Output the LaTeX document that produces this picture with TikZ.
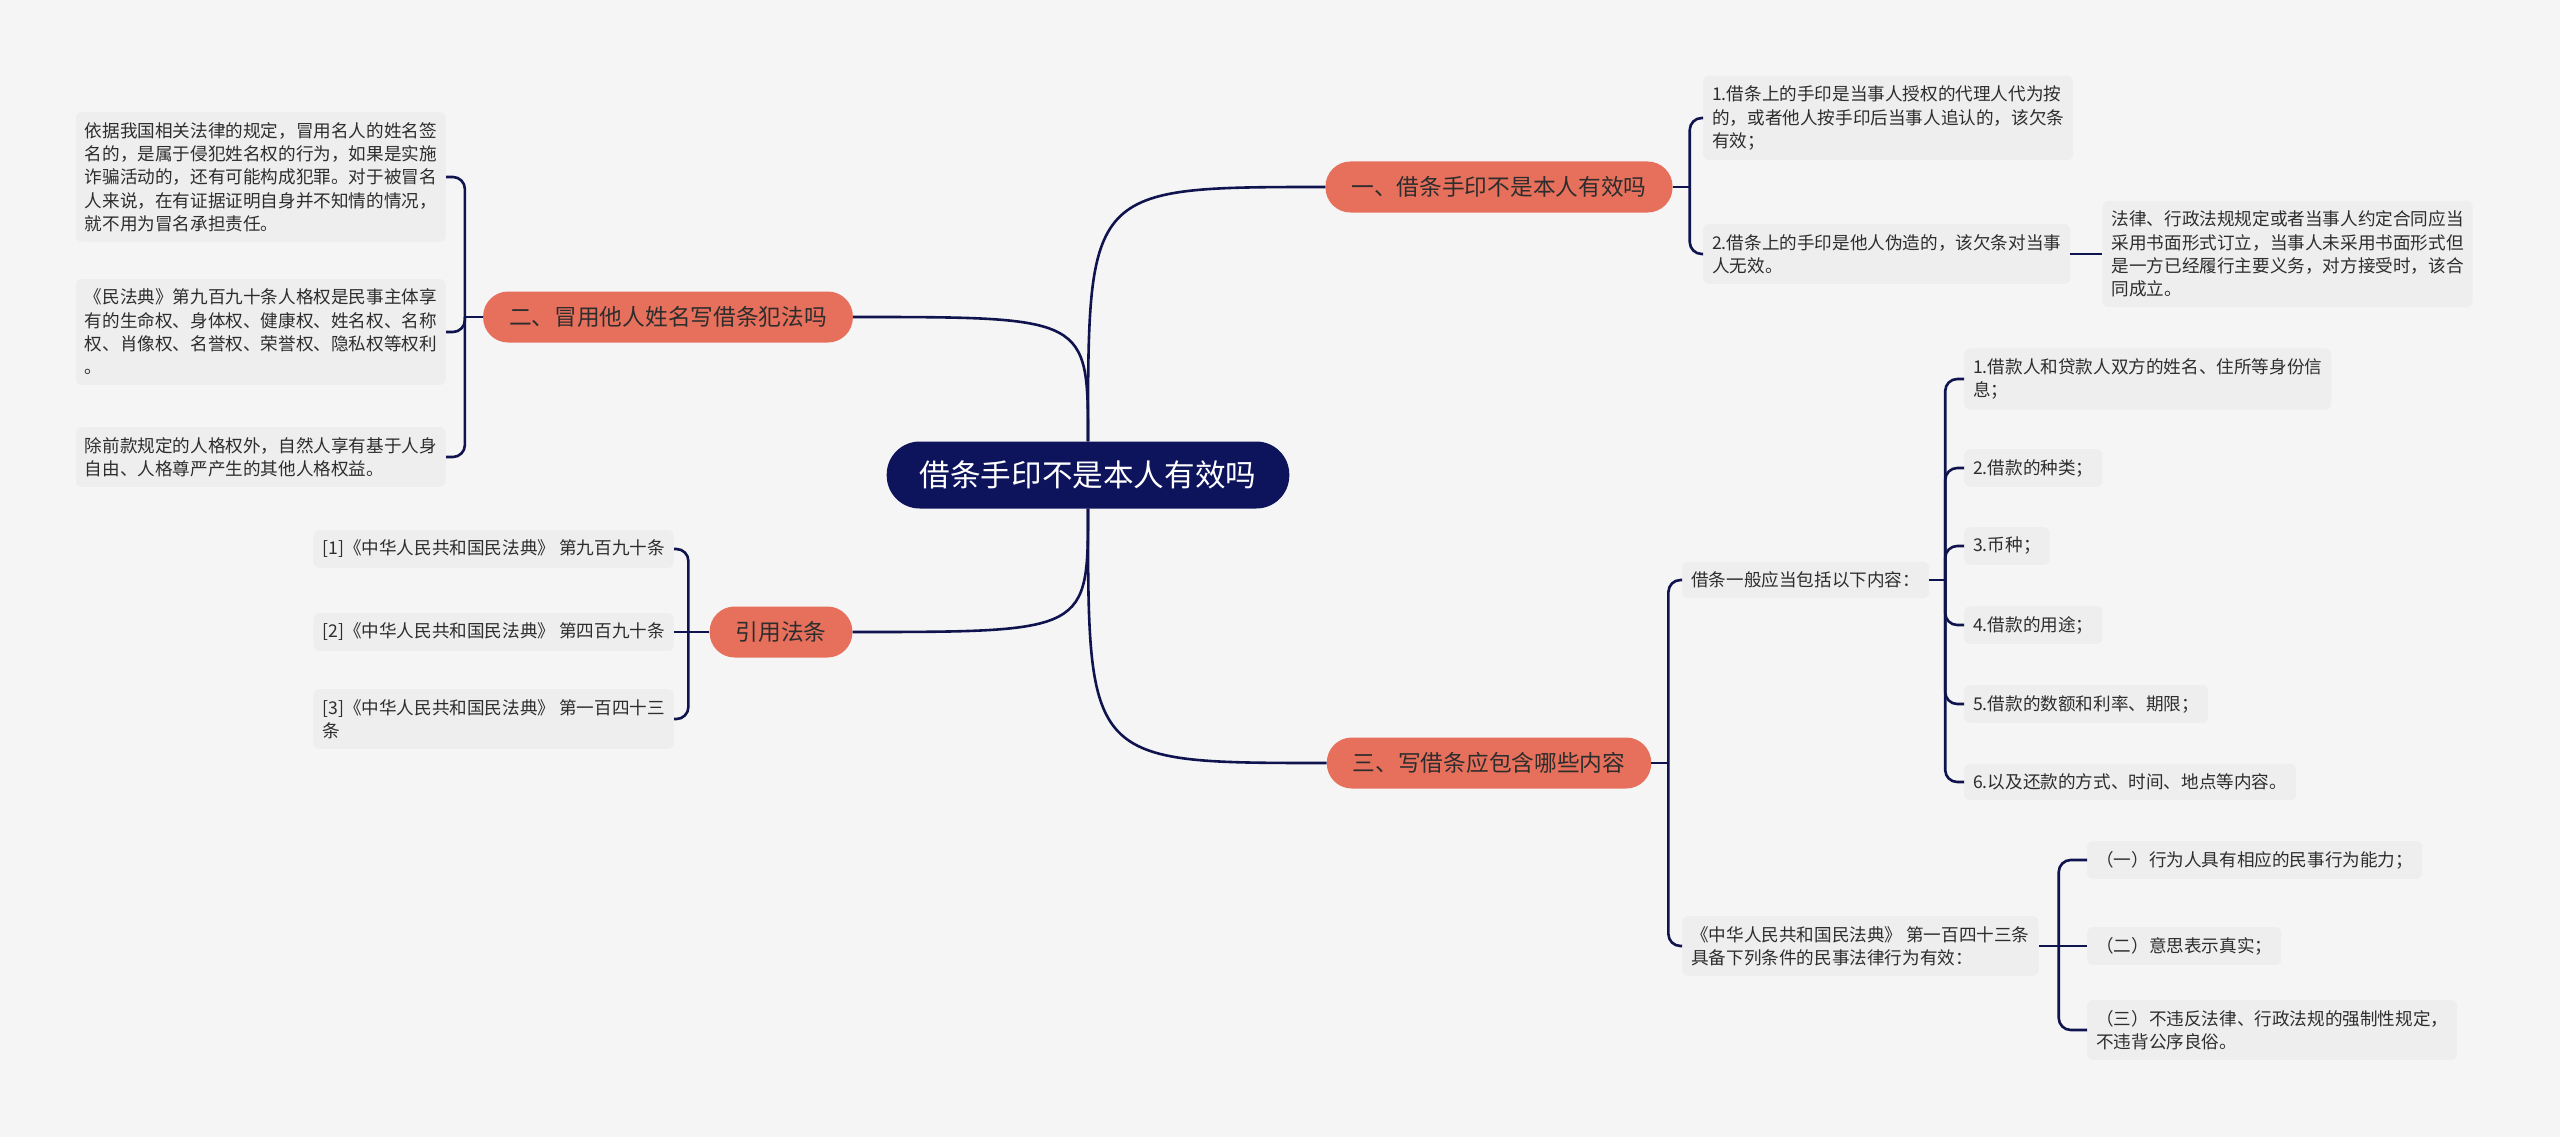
\documentclass[tikz,border=0pt]{standalone}
\usepackage{fontspec}
\usetikzlibrary{positioning}
\newfontfamily\cjk{Noto Sans CJK SC}
\newcommand\rootfont{\cjk\fontsize{30.6}{36}\selectfont}
\newcommand\topicfont{\cjk\fontsize{22.7}{28}\selectfont}
\newcommand\leaffont{\cjk\fontsize{17.6}{23.3}\selectfont}
\definecolor{canvas}{RGB}{245,245,245}
\definecolor{rootblue}{RGB}{14,20,92}
\definecolor{topicred}{RGB}{230,112,92}
\definecolor{leafgray}{RGB}{238,238,238}
\definecolor{linkblue}{RGB}{16,20,78}
\definecolor{inktext}{RGB}{45,45,45}

\begin{document}
\begin{tikzpicture}[
  x=1pt, y=-1pt,
  node distance = 32pt,
  rootnode/.style  = {fill=rootblue, text=white, rounded corners=33pt,
                      font=\rootfont, inner xsep=33pt, inner ysep=0pt,
                      minimum height=67pt},
  topicnode/.style = {fill=topicred, text=inktext, rounded corners=25pt,
                      font=\topicfont, inner xsep=26pt, inner ysep=0pt,
                      minimum height=51pt},
  leafnode/.style  = {fill=leafgray, text=inktext, rounded corners=6pt,
                      font=\leaffont, align=left,
                      inner xsep=9pt, inner ysep=10pt},
  link/.style      = {draw=linkblue, line width=2.6pt},
  brace/.style     = {link, rounded corners=12pt},
]
\fill[canvas] (0,0) rectangle (2560,1137);
\useasboundingbox (0,0) rectangle (2560,1137);

% =============================================
% ROOT AND TOPICS
% =============================================
\node[rootnode]  (root) at (1088,475) {借条手印不是本人有效吗};
\node[topicnode] (t1)   at (1499,187) {一、借条手印不是本人有效吗};
\node[topicnode] (t2)   at (668,317)  {二、冒用他人姓名写借条犯法吗};
\node[topicnode] (t3)   at (1489,763) {三、写借条应包含哪些内容};
\node[topicnode] (t4)   at (781,632)  {引用法条};

% =============================================
% TOPIC 1 LEAVES (right)
% =============================================
\node[leafnode, anchor=west] (b1) at (1703,118) {1.借条上的手印是当事人授权的代理人代为按\\的，或者他人按手印后当事人追认的，该欠条\\有效；};
\node[leafnode, anchor=west] (b2) at (1703,254) {2.借条上的手印是他人伪造的，该欠条对当事\\人无效。};
\node[leafnode, right=32pt of b2] (b3) {法律、行政法规规定或者当事人约定合同应当\\采用书面形式订立，当事人未采用书面形式但\\是一方已经履行主要义务，对方接受时，该合\\同成立。};

% =============================================
% TOPIC 3 LEAVES (right)
% =============================================
\node[leafnode, anchor=west] (d1) at (1682,580) {借条一般应当包括以下内容：};
\node[leafnode, anchor=west] (d2) at (1682,946) {《中华人民共和国民法典》 第一百四十三条\\具备下列条件的民事法律行为有效：};
% items of the IOU
\node[leafnode, anchor=west] (e1) at (1964,379) {1.借款人和贷款人双方的姓名、住所等身份信\\息；};
\node[leafnode, anchor=west] (e2) at (1964,468) {2.借款的种类；};
\node[leafnode, anchor=west] (e3) at (1964,546) {3.币种；};
\node[leafnode, anchor=west] (e4) at (1964,625) {4.借款的用途；};
\node[leafnode, anchor=west] (e5) at (1964,704) {5.借款的数额和利率、期限；};
\node[leafnode, anchor=west] (e6) at (1964,782) {6.以及还款的方式、时间、地点等内容。};
% conditions of validity
\node[leafnode, anchor=west] (f1) at (2087,860)  {（一）行为人具有相应的民事行为能力；};
\node[leafnode, anchor=west] (f2) at (2087,946)  {（二）意思表示真实；};
\node[leafnode, anchor=west] (f3) at (2087,1030) {（三）不违反法律、行政法规的强制性规定，\\不违背公序良俗。};

% =============================================
% TOPIC 2 AND 4 LEAVES (left)
% =============================================
\node[leafnode, anchor=east] (a1) at (446,177) {依据我国相关法律的规定，冒用名人的姓名签\\名的，是属于侵犯姓名权的行为，如果是实施\\诈骗活动的，还有可能构成犯罪。对于被冒名\\人来说，在有证据证明自身并不知情的情况，\\就不用为冒名承担责任。};
\node[leafnode, anchor=east] (a2) at (446,332) {《民法典》第九百九十条人格权是民事主体享\\有的生命权、身体权、健康权、姓名权、名称\\权、肖像权、名誉权、荣誉权、隐私权等权利\\。};
\node[leafnode, anchor=east] (a3) at (446,457) {除前款规定的人格权外，自然人享有基于人身\\自由、人格尊严产生的其他人格权益。};
\node[leafnode, anchor=east] (c1) at (674,549) {[1]《中华人民共和国民法典》 第九百九十条};
\node[leafnode, anchor=east] (c2) at (674,632) {[2]《中华人民共和国民法典》 第四百九十条};
\node[leafnode, anchor=east] (c3) at (674,719) {[3]《中华人民共和国民法典》 第一百四十三\\条};

% =============================================
% ROOT LINKS
% =============================================
\draw[link] (root.north) .. controls (root.north |- t1.west) .. (t1.west);
\draw[link] (root.north) .. controls (root.north |- t2.east) .. (t2.east);
\draw[link] (root.south) .. controls (root.south |- t3.west) .. (t3.west);
\draw[link] (root.south) .. controls (root.south |- t4.east) .. (t4.east);

% =============================================
% BRACES
% =============================================
\path (t1.east) ++(17,0)  coordinate (j1);
\path (t2.west) ++(-18,0) coordinate (j2);
\path (t3.east) ++(17,0)  coordinate (j3);
\path (t4.west) ++(-21,0) coordinate (j4);
\path (d1.east) ++(16,0)  coordinate (j5);
\path (d2.east) ++(20,0)  coordinate (j6);

\draw[link]  (t1.east) -- (j1);
\draw[brace] (j1) |- (b1.west);
\draw[brace] (j1) |- (b2.west);
\draw[link]  (b2.east) -- (b3.west);

\draw[link]  (t2.west) -- (j2);
\draw[brace] (j2) |- (a1.east);
\draw[brace] (j2) |- (a2.east);
\draw[brace] (j2) |- (a3.east);

\draw[link]  (t4.west) -- (c2.east);
\draw[brace] (j4) |- (c1.east);
\draw[brace] (j4) |- (c3.east);

\draw[link]  (t3.east) -- (j3);
\draw[brace] (j3) |- (d1.west);
\draw[brace] (j3) |- (d2.west);

\draw[link]  (d1.east) -- (j5);
\draw[brace] (j5) |- (e1.west);
\draw[brace] (j5) |- (e2.west);
\draw[brace] (j5) |- (e3.west);
\draw[brace] (j5) |- (e4.west);
\draw[brace] (j5) |- (e5.west);
\draw[brace] (j5) |- (e6.west);

\draw[link]  (d2.east) -- (f2.west);
\draw[brace] (j6) |- (f1.west);
\draw[brace] (j6) |- (f3.west);

\end{tikzpicture}
\end{document}
